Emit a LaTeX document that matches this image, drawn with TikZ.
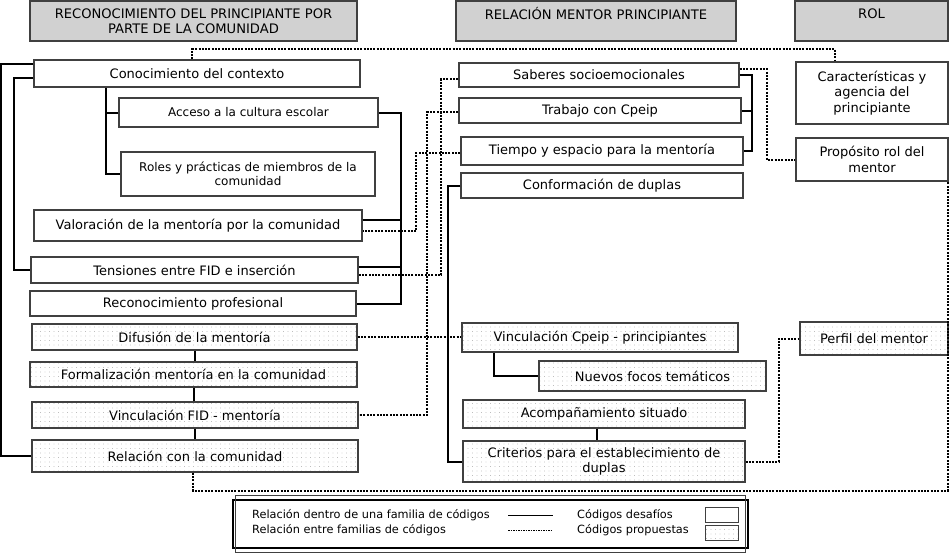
\documentclass[tikz,border=0pt]{standalone}
\usepackage{fontspec}
\setmainfont{DejaVu Sans}
\usetikzlibrary{patterns.meta}

\definecolor{headgray}{rgb}{0.82,0.82,0.82}
\definecolor{framegray}{rgb}{0.25,0.25,0.25}
\definecolor{dotgray}{rgb}{0.6,0.6,0.6}

\tikzset{
  heading/.style={draw=framegray,line width=1.4pt,fill=headgray,inner sep=0pt,align=center,font=\fontsize{13.1}{15.5}\selectfont},
  desafio/.style={draw=framegray,line width=1.4pt,inner sep=0pt,align=center,font=\fontsize{13}{15.5}\selectfont},
  propuesta/.style={desafio,pattern={Dots[distance=4.5pt,radius=0.45pt]},pattern color=dotgray},
  small/.style={font=\fontsize{12}{14.5}\selectfont},
  legtext/.style={inner sep=0pt,anchor=west,font=\fontsize{11.3}{13}\selectfont},
  famrel/.style={line width=2pt},
  crossrel/.style={line width=2pt,dash pattern=on 2pt off 1.3pt},
}

\begin{document}
\begin{tikzpicture}[x=1pt,y=-1pt]
\useasboundingbox (0,0) rectangle (950,552);

\node[heading,minimum width=327,minimum height=40] (hcomunidad) at (193.5,21) {RECONOCIMIENTO DEL PRINCIPIANTE POR\\PARTE DE LA COMUNIDAD};
\node[heading,minimum width=280,minimum height=40] (hrelacion) at (596,21) {RELACIÓN MENTOR PRINCIPIANTE\\\mbox{}};
\node[heading,minimum width=153,minimum height=40] (hrol) at (871.5,21) {ROL\\\mbox{}};

\node[desafio,minimum width=326,minimum height=27] (contexto) at (197,73.5) {Conocimiento del contexto};
\node[desafio,small,minimum width=259,minimum height=29] (acceso) at (248.5,112.5) {Acceso a la cultura escolar};
\node[desafio,small,minimum width=254,minimum height=44] (roles) at (248,174) {Roles y prácticas de miembros de la\\comunidad};
\node[desafio,minimum width=328,minimum height=31] (valoracion) at (198,225.5) {Valoración de la mentoría por la comunidad};
\node[desafio,minimum width=327,minimum height=26] (tensiones) at (194.5,270) {Tensiones entre FID e inserción};
\node[desafio,minimum width=326,minimum height=25] (reconocimiento) at (193,303.5) {Reconocimiento profesional};
\node[propuesta,minimum width=325,minimum height=26] (difusion) at (194.5,337) {Difusión de la mentoría};
\node[propuesta,minimum width=327,minimum height=25] (formalizacion) at (193.5,374.5) {Formalización mentoría en la comunidad};
\node[propuesta,minimum width=326,minimum height=26] (vinculacionFID) at (195,415) {Vinculación FID - mentoría};
\node[propuesta,minimum width=326,minimum height=32] (relacion) at (195,456) {Relación con la comunidad};

\node[desafio,minimum width=280,minimum height=24] (saberes) at (599,75) {Saberes socioemocionales};
\node[desafio,minimum width=282,minimum height=25] (trabajo) at (600,110.5) {Trabajo con Cpeip};
\node[desafio,minimum width=282,minimum height=28] (tiempo) at (602,151) {Tiempo y espacio para la mentoría};
\node[desafio,minimum width=282,minimum height=25] (duplas) at (602,185.5) {Conformación de duplas};
\node[propuesta,minimum width=276,minimum height=29] (vinculacionCpeip) at (600,337.5) {Vinculación Cpeip - principiantes};
\node[propuesta,minimum width=227,minimum height=30] (focos) at (652.5,376) {Nuevos focos temáticos};
\node[propuesta,minimum width=282,minimum height=28] (acompanamiento) at (604,414) {Acompañamiento situado};
\node[propuesta,minimum width=282,minimum height=41] (criterios) at (604,461.5) {Criterios para el establecimiento de\\duplas};

\node[desafio,minimum width=152,minimum height=62] (caracteristicas) at (872,93) {Características y\\agencia del\\principiante};
\node[desafio,minimum width=152,minimum height=43] (proposito) at (872,159.5) {Propósito rol del\\mentor};
\node[propuesta,minimum width=148,minimum height=33] (perfil) at (874,338.5) {Perfil del mentor};

% relaciones dentro de una familia
\draw[famrel] ([yshift=10]contexto.west) -- ++(-32,0) |- (relacion.west);
\draw[famrel] ([yshift=-4]contexto.west) -- ++(-19,0) |- (tensiones.west);
\draw[famrel] ([xshift=-91]contexto.south) coordinate (ctxdown) |- (roles.west);
\draw[famrel] (acceso.west) -- (acceso.west -| ctxdown);
\draw[famrel] (acceso.east) -- ++(22,0) coordinate (rb) |- (reconocimiento.east);
\draw[famrel] ([yshift=5.5]valoracion.east) -- ([yshift=5.5]valoracion.east -| rb);
\draw[famrel] ([yshift=3]tensiones.east) -- ([yshift=3]tensiones.east -| rb);
\draw[famrel] (difusion.south) -- (difusion.south |- formalizacion.north);
\draw[famrel] (formalizacion.south) -- (formalizacion.south |- vinculacionFID.north);
\draw[famrel] (vinculacionFID.south) -- (vinculacionFID.south |- relacion.north);
\draw[famrel] (saberes.east) -- ++(12,0) coordinate (mb) |- (tiempo.east);
\draw[famrel] (trabajo.east) -- (trabajo.east -| mb);
\draw[famrel] (duplas.west) -- ++(-12,0) |- (criterios.west);
\draw[famrel] ([xshift=-106]vinculacionCpeip.south) |- (focos.west);
\draw[famrel] ([xshift=-7]acompanamiento.south) -- ([xshift=-7]criterios.north);

% relaciones entre familias
\draw[crossrel] ([xshift=-5]contexto.north) -- ++(0,-10) -| ([xshift=-37]caracteristicas.north);
\draw[crossrel] ([yshift=6]saberes.east) -- ++(27,0) |- (proposito.west);
\draw[crossrel] ([yshift=-4]saberes.west) -- ++(-17,0) |- ([yshift=-5]tensiones.east);
\draw[crossrel] ([yshift=-1.5]trabajo.west) -- ++(-31,0) |- (vinculacionFID.east);
\draw[crossrel] ([yshift=-2]tiempo.west) -- ++(-44,0) |- ([yshift=-5.5]valoracion.east);
\draw[crossrel] (difusion.east) -- (difusion.east -| vinculacionCpeip.west);
\draw[crossrel] (criterios.east) -- ++(33,0) |- (perfil.west);
\draw[crossrel] ([xshift=-2]relacion.south) -- ++(0,18) -| ([xshift=-1]proposito.south east);

% leyenda
\node[draw=black,line width=2pt,minimum width=515,minimum height=48] (leyenda) at (490.5,524) {};
\draw[framegray,line width=1pt] ([shift={(3.5,-3.5)}]leyenda.north west) rectangle ([shift={(-3.5,3.5)}]leyenda.south east);
\node[legtext] (ldentro) at (252,515.5) {Relación dentro de una familia de códigos};
\node[legtext] (lentre) at (252,530.5) {Relación entre familias de códigos};
\draw[famrel,line width=1.5pt] (508,515.5) -- (553,515.5);
\draw[crossrel,line width=1.5pt,dash pattern=on 1.5pt off 1pt] (508,530.5) -- (553,530.5);
\node[legtext] (ldesafio) at (577,515.5) {Códigos desafíos};
\node[legtext] (lpropuesta) at (577,530.5) {Códigos propuestas};
\node[desafio,line width=1pt,minimum width=33,minimum height=15] (sdesafio) at (721.5,514.5) {};
\node[propuesta,line width=1pt,minimum width=33,minimum height=15] (spropuesta) at (721.5,532.5) {};
\end{tikzpicture}
\end{document}
